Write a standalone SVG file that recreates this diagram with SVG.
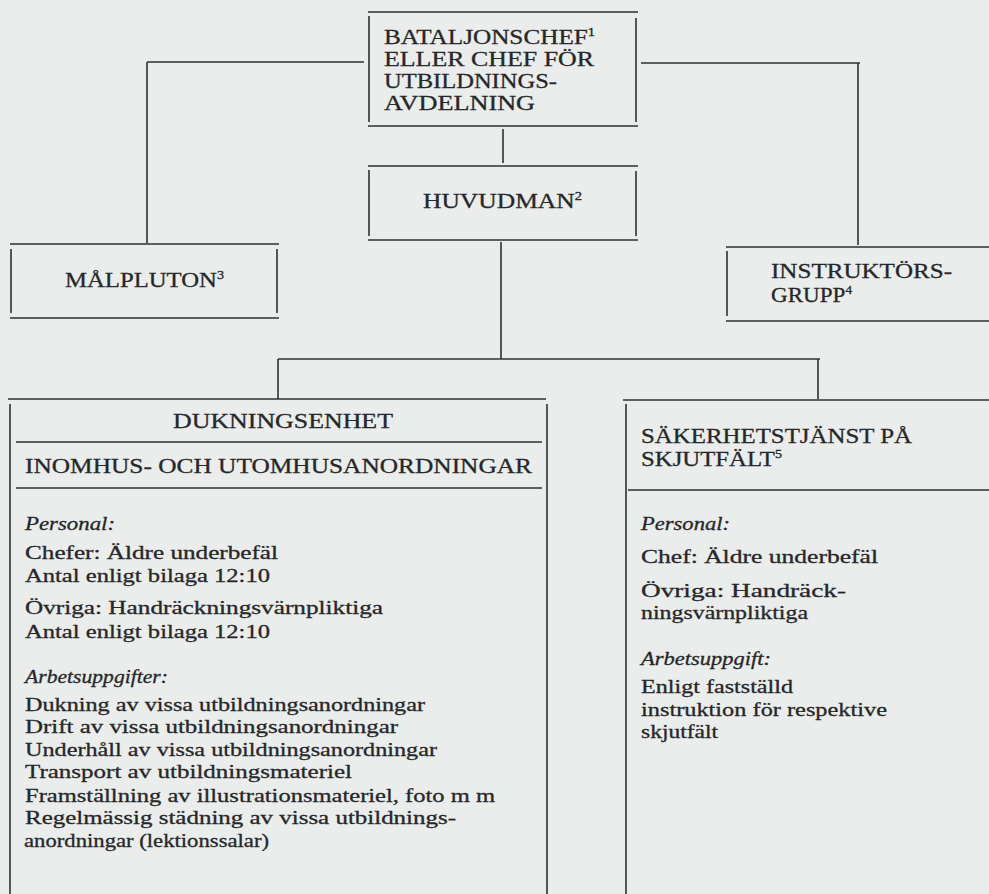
<svg xmlns="http://www.w3.org/2000/svg" width="989" height="894" viewBox="0 0 989 894">
<style>
.ln{stroke:#2f3133;stroke-width:1.6;fill:none;stroke-linecap:butt}
.t{font-family:"Liberation Serif","Times New Roman",serif;fill:#26272a;stroke:#26272a;stroke-width:0.3}
.h{font-size:21px}
.b{font-size:19px}
.i{font-style:italic}
.sup{font-size:12px}
</style>
<rect x="0" y="0" width="989" height="894" fill="#eaedeb"/>

<g id="connectors" class="ln">
  <path d="M147 62 H364 M147 62 V243"/>
  <path d="M641 63 H860 M858 63 V245"/>
  <path d="M503 129 V163"/>
  <path d="M501 242 V359"/>
  <path d="M278 359 H820"/>
  <path d="M278 359 V399"/>
  <path d="M818 359 V399"/>
</g>

<g id="bataljonschef">
  <path class="ln" d="M368 12 H638 M368 126 H638 M369 16 V122 M636 18 V122"/>
  <text class="t h" x="384" y="44" textLength="211" lengthAdjust="spacingAndGlyphs">BATALJONSCHEF<tspan class="sup" dy="-8">1</tspan></text>
  <text class="t h" x="384" y="66" textLength="210" lengthAdjust="spacingAndGlyphs">ELLER CHEF FÖR</text>
  <text class="t h" x="384" y="88" textLength="173" lengthAdjust="spacingAndGlyphs">UTBILDNINGS-</text>
  <text class="t h" x="384" y="110" textLength="151" lengthAdjust="spacingAndGlyphs">AVDELNING</text>
</g>

<g id="huvudman">
  <path class="ln" d="M368 166 H638 M368 240 H638 M369 170 V236 M636 171 V236"/>
  <text class="t h" x="423" y="208" textLength="159" lengthAdjust="spacingAndGlyphs">HUVUDMAN<tspan class="sup" dy="-8">2</tspan></text>
</g>

<g id="malpluton">
  <path class="ln" d="M10 244 H279 M10 318 H279 M11 249 V313 M277 249 V313"/>
  <text class="t h" x="65" y="287" textLength="159" lengthAdjust="spacingAndGlyphs">MÅLPLUTON<tspan class="sup" dy="-8">3</tspan></text>
</g>

<g id="instruktorsgrupp">
  <path class="ln" d="M726 247 H989 M726 321 H989 M727 251 V316"/>
  <text class="t h" x="771" y="278" textLength="181" lengthAdjust="spacingAndGlyphs">INSTRUKTÖRS-</text>
  <text class="t h" x="771" y="302" textLength="81" lengthAdjust="spacingAndGlyphs">GRUPP<tspan class="sup" dy="-8">4</tspan></text>
</g>

<g id="dukningsenhet">
  <path class="ln" d="M8 399 H546 M10 404 V894 M547 404 V894 M16 442 H542 M16 488 H542"/>
  <text class="t h" x="173" y="428" textLength="220" lengthAdjust="spacingAndGlyphs">DUKNINGSENHET</text>
  <text class="t h" x="25" y="473" textLength="507" lengthAdjust="spacingAndGlyphs">INOMHUS- OCH UTOMHUSANORDNINGAR</text>
  <text class="t b i" x="25" y="530" textLength="90" lengthAdjust="spacingAndGlyphs">Personal:</text>
  <text class="t b" x="25" y="559" textLength="253" lengthAdjust="spacingAndGlyphs">Chefer: Äldre underbefäl</text>
  <text class="t b" x="25" y="582" textLength="245" lengthAdjust="spacingAndGlyphs">Antal enligt bilaga 12:10</text>
  <text class="t b" x="25" y="614" textLength="358" lengthAdjust="spacingAndGlyphs">Övriga: Handräckningsvärnpliktiga</text>
  <text class="t b" x="25" y="638" textLength="245" lengthAdjust="spacingAndGlyphs">Antal enligt bilaga 12:10</text>
  <text class="t b i" x="25" y="683" textLength="143" lengthAdjust="spacingAndGlyphs">Arbetsuppgifter:</text>
  <text class="t b" x="25" y="711" textLength="400" lengthAdjust="spacingAndGlyphs">Dukning av vissa utbildningsanordningar</text>
  <text class="t b" x="25" y="733" textLength="373" lengthAdjust="spacingAndGlyphs">Drift av vissa utbildningsanordningar</text>
  <text class="t b" x="25" y="756" textLength="412" lengthAdjust="spacingAndGlyphs">Underhåll av vissa utbildningsanordningar</text>
  <text class="t b" x="25" y="778" textLength="327" lengthAdjust="spacingAndGlyphs">Transport av utbildningsmateriel</text>
  <text class="t b" x="25" y="802" textLength="470" lengthAdjust="spacingAndGlyphs">Framställning av illustrationsmateriel, foto m m</text>
  <text class="t b" x="25" y="824" textLength="431" lengthAdjust="spacingAndGlyphs">Regelmässig städning av vissa utbildnings-</text>
  <text class="t b" x="24" y="847" textLength="245" lengthAdjust="spacingAndGlyphs">anordningar (lektionssalar)</text>
</g>

<g id="sakerhetstjanst">
  <path class="ln" d="M623 400 H989 M626 404 V894 M628 490 H989"/>
  <text class="t h" x="641" y="443" textLength="271" lengthAdjust="spacingAndGlyphs">SÄKERHETSTJÄNST PÅ</text>
  <text class="t h" x="641" y="466" textLength="141" lengthAdjust="spacingAndGlyphs">SKJUTFÄLT<tspan class="sup" dy="-8">5</tspan></text>
  <text class="t b i" x="641" y="530" textLength="89" lengthAdjust="spacingAndGlyphs">Personal:</text>
  <text class="t b" x="641" y="563" textLength="237" lengthAdjust="spacingAndGlyphs">Chef: Äldre underbefäl</text>
  <text class="t b" x="641" y="597" textLength="205" lengthAdjust="spacingAndGlyphs">Övriga: Handräck-</text>
  <text class="t b" x="641" y="619" textLength="167" lengthAdjust="spacingAndGlyphs">ningsvärnpliktiga</text>
  <text class="t b i" x="641" y="665" textLength="130" lengthAdjust="spacingAndGlyphs">Arbetsuppgift:</text>
  <text class="t b" x="641" y="693" textLength="152" lengthAdjust="spacingAndGlyphs">Enligt fastställd</text>
  <text class="t b" x="641" y="716" textLength="246" lengthAdjust="spacingAndGlyphs">instruktion för respektive</text>
  <text class="t b" x="641" y="738" textLength="77" lengthAdjust="spacingAndGlyphs">skjutfält</text>
</g>
</svg>
